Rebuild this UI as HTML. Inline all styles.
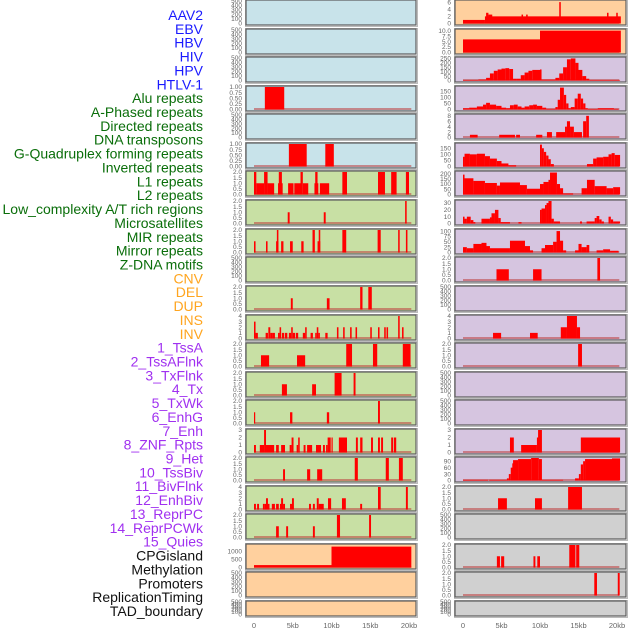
<!DOCTYPE html>
<html><head><meta charset="utf-8"><style>
html,body{margin:0;padding:0;background:#fff;}
svg{display:block;font-family:"Liberation Sans",sans-serif;}
</style></head><body>
<svg id="chart" width="630" height="630" viewBox="0 0 630 630"></svg>
<script>
const trackLabels = ["AAV2","EBV","HBV","HIV","HPV","HTLV-1","Alu repeats","A-Phased repeats","Directed repeats","DNA transposons","G-Quadruplex forming repeats","Inverted repeats","L1 repeats","L2 repeats","Low_complexity A/T rich regions","Microsatellites","MIR repeats","Mirror repeats","Z-DNA motifs","CNV","DEL","DUP","INS","INV","1_TssA","2_TssAFlnk","3_TxFlnk","4_Tx","5_TxWk","6_EnhG","7_Enh","8_ZNF_Rpts","9_Het","10_TssBiv","11_BivFlnk","12_EnhBiv","13_ReprPC","14_ReprPCWk","15_Quies","CPGisland","Methylation","Promoters","ReplicationTiming","TAD_boundary"];
const labelGroups = ["virus","virus","virus","virus","virus","virus","repeat","repeat","repeat","repeat","repeat","repeat","repeat","repeat","repeat","repeat","repeat","repeat","repeat","sv","sv","sv","sv","sv","chrom","chrom","chrom","chrom","chrom","chrom","chrom","chrom","chrom","chrom","chrom","chrom","chrom","chrom","chrom","other","other","other","other","other"];
const xTickValues = [0,5,10,15,20];
const xTickLabels = ["0","5kb","10kb","15kb","20kb"];
const T500 = ["0","100","200","300","400","500"];
const T2 = ["0.0","0.5","1.0","1.5","2.0"];
const T1 = ["0.00","0.25","0.50","0.75","1.00"];
const T4 = ["0","1","2","3","4"];
const T3 = ["0","1","2","3"];
const leftBg = ["blue","blue","blue","blue","blue","blue","green","green","green","green","green","green","green","green","green","green","green","green","green","orange","orange","orange"];
const rightBg = ["orange","orange","purple","purple","purple","purple","purple","purple","purple","purple","purple","purple","purple","purple","purple","purple","purple","gray","gray","gray","gray","gray"];
const leftScale = [500,500,500,1,500,1,2,2,2,500,2,4,2,2,2,3,2,4,2,1400,500,500];
const leftTicks = [T500,T500,T500,T1,T500,T1,T2,T2,T2,T500,T2,T4,T2,T2,T2,T3,T2,T4,T2,["0","500","1000"],T500,T500];
const rightScale = [6.3,10.3,255,185,8.3,185,215,33,105,2,500,4,2,500,500,3,105,2,500,2,2,500];
const rightTicks = [["0","2","4","6"],["0.0","2.5","5.0","7.5","10.0"],["0","50","100","150","200","250"],["0","50","100","150"],["0","2","4","6","8"],["0","50","100","150"],["0","50","100","150","200"],["0","10","20","30"],["0","25","50","75","100"],T2,T500,T4,T2,T500,T500,T3,["0","30","60","90"],T2,T500,T2,T2,T500];
// bars: [startKb, endKb, value]
const leftBars = [
 [],[],[],
 [[1.4,3.9,1]],
 [],
 [[4.5,6.8,1],[9.2,10.3,1]],
 [[0,0.3,2],[0.3,1.3,1],[1.3,1.75,2],[1.75,2.6,1],[3.1,3.7,1],[3.2,3.6,2],[4.4,5.1,1],[5.2,6.0,1],[6.0,6.3,2],[6.3,7.0,1],[7.8,8.3,1],[7.9,8.2,2],[8.5,9.7,1],[11.4,12.0,2],[16.0,16.9,2],[17.7,18.4,2],[19.6,20.0,2]],
 [[4.35,4.6,1],[9.0,9.25,1],[19.5,19.7,2]],
 [[0,0.2,1],[1.55,1.75,1],[2.85,3.15,1],[2.95,3.15,2],[3.5,3.8,1],[4.65,5.0,1],[6.1,6.4,1],[7.55,7.85,2],[8.2,8.55,1],[8.35,8.55,2],[11.4,11.9,2],[15.95,16.35,2],[18.6,18.8,2],[19.6,19.8,2]],
 [],
 [[4.75,5.0,1],[9.4,9.75,1],[13.7,14.0,2],[14.75,15.2,2]],
 [[0,0.2,3],[0.2,0.5,1],[1.5,1.8,1],[1.85,2.1,2],[2.1,2.4,1],[2.4,2.7,1],[3.1,3.3,1],[3.3,3.5,2],[3.6,3.9,1],[4.0,4.3,1],[4.5,4.8,1],[4.8,5.0,2],[5.0,5.3,1],[5.4,5.7,1],[6.3,6.6,1],[6.6,6.8,2],[7.3,7.6,1],[7.9,8.1,1],[8.1,8.3,2],[8.3,8.5,1],[9.2,9.5,1],[10.7,10.9,2],[11.5,11.7,2],[12.4,12.6,2],[13.1,13.3,2],[15.0,15.2,2],[16.0,16.2,2],[16.8,17.0,2],[17.1,17.3,2],[18.6,18.8,4],[19.1,19.3,2]],
 [[0.9,1.95,1],[5.55,6.6,1],[11.9,12.65,2],[15.35,15.9,2],[19.2,20.2,2]],
 [[3.6,4.25,1],[7.5,8.0,1],[10.4,11.3,2],[12.85,13.1,2]],
 [[0,0.15,1],[4.65,4.95,1],[9.4,9.7,1],[16.0,16.25,2]],
 [[0,0.25,1],[0.75,1.3,1],[1.3,1.55,3],[1.55,2.6,1],[2.85,3.2,1],[3.5,4.0,1],[4.6,4.85,1],[4.85,5.1,2],[5.5,5.7,1],[5.7,5.9,2],[6.4,6.65,1],[6.85,7.5,1],[8.0,8.65,1],[8.9,9.15,1],[9.3,9.5,1],[9.5,9.9,2],[10.0,10.15,2],[10.95,12.0,2],[13.15,13.4,2],[13.7,14.0,2],[15.1,15.35,2],[16.0,16.25,2],[16.4,16.65,2],[17.7,17.95,2],[18.05,18.35,2]],
 [[3.75,4.0,1],[6.85,7.25,1],[8.15,8.8,1],[13.0,13.4,2],[17.0,17.4,2],[18.7,19.2,2]],
 [[0,0.25,1],[0.4,0.65,1],[1.15,1.4,1],[1.4,2.0,1],[1.55,1.8,2],[2.3,2.7,1],[2.85,3.2,1],[3.35,3.6,1],[3.5,3.75,2],[3.75,4.0,1],[4.65,4.9,1],[4.9,5.15,2],[7.1,7.35,1],[7.6,7.85,1],[8.1,8.35,2],[8.35,9.0,1],[9.55,9.95,2],[11.35,11.85,2],[13.7,13.95,1],[16.0,16.35,4],[19.6,19.85,4]],
 [[2.85,3.2,1],[4.15,4.4,1],[7.6,7.85,1],[10.7,11.1,2],[14.85,15.1,2]],
 [[0,10,150],[10,20.3,1300]],
 [],[]
];
const rightBars = [
 [[0,2.85,1],[2.85,20.5,2],[3.0,3.3,3],[3.3,3.8,2.5],[7.6,7.8,2.5],[8.2,8.4,2.5],[12.5,12.7,6],[18.7,18.9,3],[19.9,20.1,3]],
 [[0,10,6],[10,20.5,10]],
 [[0,2,5],[2,3,10],[3,3.5,30],[3.5,4,80],[4,4.5,110],[4.5,5,125],[5,5.5,135],[5.5,6,140],[6,6.5,130],[6.5,7,20],[7,7.5,20],[7.5,8,60],[8,8.5,90],[8.5,9,110],[9,10,120],[10,10.2,125],[10.2,12,10],[12,12.5,30],[12.5,13,80],[13,13.5,150],[13.5,14,240],[14,14.6,250],[14.6,15,200],[15,15.5,120],[15.5,16,50],[16,16.4,20],[16.4,20.4,5]],
 [[0,0.8,10],[0.8,1.8,15],[1.8,2.6,25],[2.6,3.0,40],[3.0,3.5,55],[3.5,4.3,40],[4.3,5,30],[5,5.6,15],[5.6,6.1,10],[6.1,6.6,35],[6.6,7.1,40],[7.1,7.6,25],[7.6,8,15],[8,8.6,25],[8.6,9.1,35],[9.1,9.6,40],[9.6,10.3,30],[10.3,10.8,15],[10.8,12,5],[12,12.3,20],[12.3,12.6,80],[12.6,13.1,180],[13.1,13.4,120],[13.4,13.7,50],[13.7,14,10],[14,14.5,20],[14.5,14.9,90],[14.9,15.3,130],[15.3,15.6,90],[15.6,15.9,50],[15.9,16.2,10],[16.2,17.5,3],[17.5,19.6,10],[19.6,20.2,5]],
 [[0.9,1.9,1],[4.7,6.75,1],[6.9,7.4,1],[9.5,10.3,1],[10.9,11.55,2],[12.1,13.25,2],[13.25,13.5,4],[13.5,13.9,6],[13.9,14.4,4],[14.4,15.45,2],[15.6,16.0,6],[16.0,16.35,8]],
 [[0,0.2,80],[0.2,0.9,105],[0.9,1.8,100],[1.8,2.85,105],[2.85,3.5,85],[3.5,4.4,65],[4.4,5.0,45],[5.0,5.9,25],[5.9,6.9,10],[10.0,10.25,180],[10.25,10.5,150],[10.5,10.8,120],[10.8,11.1,90],[11.1,11.4,60],[11.4,11.8,20],[16.1,16.9,20],[16.9,17.35,65],[17.35,18.2,75],[18.2,18.9,80],[18.9,19.3,100],[19.3,19.7,110],[19.7,20.4,95]],
 [[0,0.2,190],[0.2,1.35,155],[1.35,2.85,130],[2.85,4.4,110],[4.4,4.8,85],[4.8,7.4,115],[7.4,8.3,90],[8.3,10.0,55],[10.0,10.45,100],[10.45,11.1,120],[11.1,11.3,140],[11.3,12.2,210],[12.2,12.6,100],[12.6,13.0,60],[13.0,14.3,10],[15.4,16.1,60],[16.1,17.1,140],[17.1,18.65,80],[18.65,19.5,60],[19.5,20.4,70]],
 [[0,0.2,10],[0.2,0.5,7],[0.5,1.0,10],[1.0,1.35,5],[1.35,1.6,2],[2.4,3.5,7],[3.5,3.7,9],[3.7,4.15,15],[4.15,4.6,20],[4.6,4.9,8],[4.9,6.1,2],[7.2,7.6,2],[10.0,10.2,20],[10.2,10.65,22],[10.65,10.85,27],[10.85,11.1,30],[11.1,11.5,33],[11.5,11.8,7],[11.8,12.6,3],[15.2,15.45,3],[16.05,17.1,3],[17.1,17.35,8],[17.35,17.7,11],[17.7,18.0,6],[18.0,18.3,3],[18.9,19.2,10],[19.2,19.5,6],[19.5,20.4,3]],
 [[0,0.5,25],[0.5,1.35,20],[1.35,2.4,40],[2.4,3.05,45],[3.05,3.5,30],[3.5,6.1,20],[6.1,8.05,55],[8.05,8.7,30],[8.7,9.1,10],[10.2,10.65,20],[10.65,11.7,35],[11.7,12.15,50],[12.15,12.6,100],[12.6,13.0,55],[13.0,13.4,10],[14.55,15.0,10],[15.0,15.4,40],[15.4,16.05,25],[16.05,16.4,35],[17.35,18.2,10],[18.2,19.1,15],[19.1,20.2,8]],
 [[4.35,5.95,1],[9.1,10.2,1],[17.45,17.8,2]],
 [],
 [[3.9,4.95,1],[8.7,9.7,1],[12.7,13.5,2],[13.5,14.8,4],[14.8,15.2,2]],
 [[14.95,15.45,2]],
 [],[],
 [[6.1,6.6,2],[7.55,9.6,1],[9.6,9.85,2],[9.75,10.25,3],[15.3,20.4,2]],
 [[0,3.25,3],[3.4,5.7,3],[5.7,5.95,10],[5.95,6.2,30],[6.2,6.5,60],[6.4,6.65,80],[6.5,7.15,95],[7.15,8.85,100],[8.85,9.85,105],[9.85,10.25,100],[10.25,13.0,3],[14.55,15.05,10],[15.05,15.3,30],[15.3,15.6,75],[15.6,15.85,90],[15.85,19.35,100],[19.35,20.4,103]],
 [[4.55,5.7,1],[9.35,10.25,1],[13.65,15.45,2]],
 [],
 [[4.4,4.8,1],[4.95,5.35,1],[9.15,9.4,1],[9.65,10.0,1],[13.8,14.6,2],[14.7,15.1,2]],
 [[17.05,17.4,2],[20.1,20.35,2]],
 []
];
</script>
<script>
const NS="http://www.w3.org/2000/svg";
const svg=document.getElementById('chart');
function mk(tag,attrs,parent){const e=document.createElementNS(NS,tag);for(const k in attrs)e.setAttribute(k,attrs[k]);(parent||svg).appendChild(e);return e;}
const groupColor={virus:"#1a1aff",repeat:"#0a6e0a",sv:"#ffa51f",chrom:"#a030f0",other:"#111"};
const bgColor={blue:"#c8e3ea",green:"#c8e0a4",orange:"#ffd09e",purple:"#d6c5e0",gray:"#d0d0d0"};
const rowTop=[0,29,57,86,114,143,171,200,229,257,286,315,343,372,400,429,457,486,514,544,572,601];
const cols=[{x0:246,x1:416,zero:254,pxPerKb:7.75,tickX:242,bg:leftBg,scale:leftScale,ticks:leftTicks,bars:leftBars,name:'left'},
            {x0:455,x1:626,zero:463,pxPerKb:7.7,tickX:451,bg:rightBg,scale:rightScale,ticks:rightTicks,bars:rightBars,name:'right'}];
trackLabels.forEach((t,i)=>{
  const e=mk('text',{x:203,y:15+i*13.86+5,'text-anchor':'end','font-size':'14',fill:groupColor[labelGroups[i]]});
  e.textContent=t;
  
  
});
cols.forEach(c=>{
  const sx=kb=>c.zero+kb*c.pxPerKb;
  rowTop.forEach((top,r)=>{
    const h=(r===rowTop.length-1)?15:25;
    const g=mk('g',{});
    
    
    mk('rect',{x:c.x0-0.5,y:top-0.5,width:c.x1-c.x0+2,height:h+2,fill:'none',stroke:'#bbb','stroke-width':1},g);
    mk('rect',{x:c.x0,y:top,width:c.x1-c.x0,height:h,fill:bgColor[c.bg[r]],stroke:'#5a5a5a','stroke-width':1.2},g);
    const yTop=top+1, y0=top+h-1.5;
    const sy=v=>y0-(v/c.scale[r])*(y0-yTop);
    const tk=c.ticks[r];
    tk.forEach(lbl=>{
      const v=parseFloat(lbl);
      const t=mk('text',{x:c.tickX,y:sy(v)+2.2,'text-anchor':'end','font-size':'6.5',fill:'#666'},g);
      t.textContent=lbl;
      
      
    });
    const hasData=c.ticks[r]!==T500;
    if(hasData){
      mk('line',{x1:sx(0),x2:sx(20.3),y1:y0-0.5,y2:y0-0.5,stroke:'rgba(190,60,60,0.55)','stroke-width':2},g);
    }
    c.bars[r].forEach(b=>{
      const y=sy(b[2]);
      const rc=mk('rect',{x:sx(b[0]),y:y,width:Math.max(1.2,sx(b[1])-sx(b[0])),height:Math.max(0.5,y0-y),fill:'#ff0000'},g);
      
      
    });
  });
  xTickValues.forEach((v,i)=>{
    const t=mk('text',{x:sx(v),y:628,'text-anchor':'middle','font-size':'7.5',fill:'#666'});
    t.textContent=xTickLabels[i];
    
    
  });
});
</script>
</body></html>
